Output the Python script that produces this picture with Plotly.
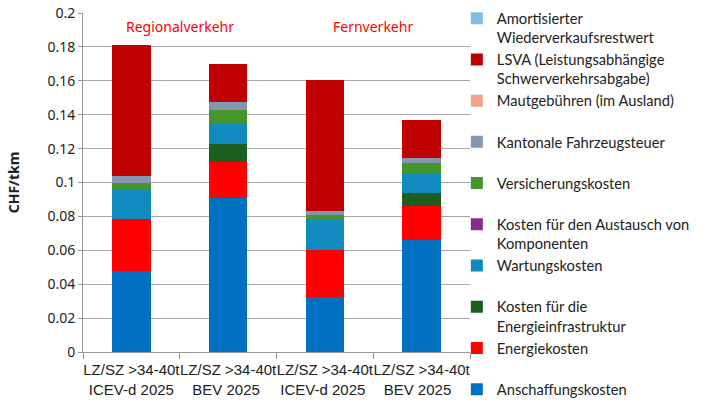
import plotly.graph_objects as go

categories = ["LZ/SZ >34-40t<br>ICEV-d 2025", "LZ/SZ >34-40t<br>BEV 2025 ",
              "LZ/SZ >34-40t<br>ICEV-d 2025 ", "LZ/SZ >34-40t<br>BEV 2025  "]

anschaffung = [0.0477, 0.0906, 0.0327, 0.0662]
energie = [0.0305, 0.0213, 0.0276, 0.0201]
infrastruktur = [0.0, 0.0110, 0.0, 0.0077]
wartung = [0.0178, 0.0121, 0.0179, 0.0116]
austausch = [0.0, 0.0, 0.0, 0.0]
versicherung = [0.0035, 0.0079, 0.0024, 0.0057]
kantonal = [0.0043, 0.0046, 0.0027, 0.0030]
maut = [0.0, 0.0, 0.0, 0.0]
lsva = [0.0771, 0.0225, 0.0769, 0.0228]
restwert = [0.0, 0.0, 0.0, 0.0]

series = [
    ("Anschaffungskosten", anschaffung, "#0070C0"),
    ("Energiekosten<br> ", energie, "#FF0000"),
    ("Kosten für die<br>Energieinfrastruktur", infrastruktur, "#1B5E20"),
    ("Wartungskosten<br> ", wartung, "#108BBF"),
    ("Kosten für den Austausch von<br>Komponenten", austausch, "#8B2C8B"),
    ("Versicherungskosten<br> ", versicherung, "#47962C"),
    ("Kantonale Fahrzeugsteuer<br> ", kantonal, "#8497B0"),
    ("Mautgebühren (im Ausland)<br> ", maut, "#F2A08C"),
    ("LSVA (Leistungsabhängige<br>Schwerverkehrsabgabe)", lsva, "#C00000"),
    ("Amortisierter<br>Wiederverkaufsrestwert", restwert, "#85BCE6"),
]

fig = go.Figure()
for name, vals, color in series:
    fig.add_trace(go.Bar(x=categories, y=vals, name=name,
                         marker=dict(color=color, line=dict(width=0))))

fig.add_annotation(x=0.5, y=0.192, xref="x", yref="y", text="Regionalverkehr",
                   showarrow=False, font=dict(color="#FF0000", size=14))
fig.add_annotation(x=2.5, y=0.192, xref="x", yref="y", text="Fernverkehr",
                   showarrow=False, font=dict(color="#FF0000", size=14))

fig.update_layout(
    width=715, height=405,
    barmode="stack", bargap=0.6,
    paper_bgcolor="white", plot_bgcolor="white",
    margin=dict(l=83, r=245, t=13, b=53, autoexpand=False),
    font=dict(family="Noto Sans", size=14, color="#222"),
    legend=dict(x=0.966, xanchor="left", y=1.032, yanchor="top",
                traceorder="reversed", valign="top",
                font=dict(family="Lato", size=14.7, color="#222"),
                bgcolor="rgba(0,0,0,0)", maxheight=405),
    xaxis=dict(showline=True, linecolor="#999", linewidth=1,
               ticks="outside", tickson="boundaries", ticklen=6, tickcolor="#999",
               tickangle=0, ticklabelstandoff=4,
               tickfont=dict(family="Liberation Sans", size=15, color="#222")),
    yaxis=dict(range=[0, 0.2], dtick=0.02, showgrid=True, gridcolor="#A6A6A6",
               gridwidth=1, showline=True, linecolor="#999", ticks="outside",
               ticklen=4, tickcolor="#999", zeroline=False,
               title=dict(text="<b>CHF/tkm</b>", standoff=24, font=dict(size=14)),
               tickfont=dict(size=14, color="#222")),
)

fig.write_html("out.html", config={"displayModeBar": False},
               post_script="document.body.style.margin='0';document.body.style.overflow='hidden';")
